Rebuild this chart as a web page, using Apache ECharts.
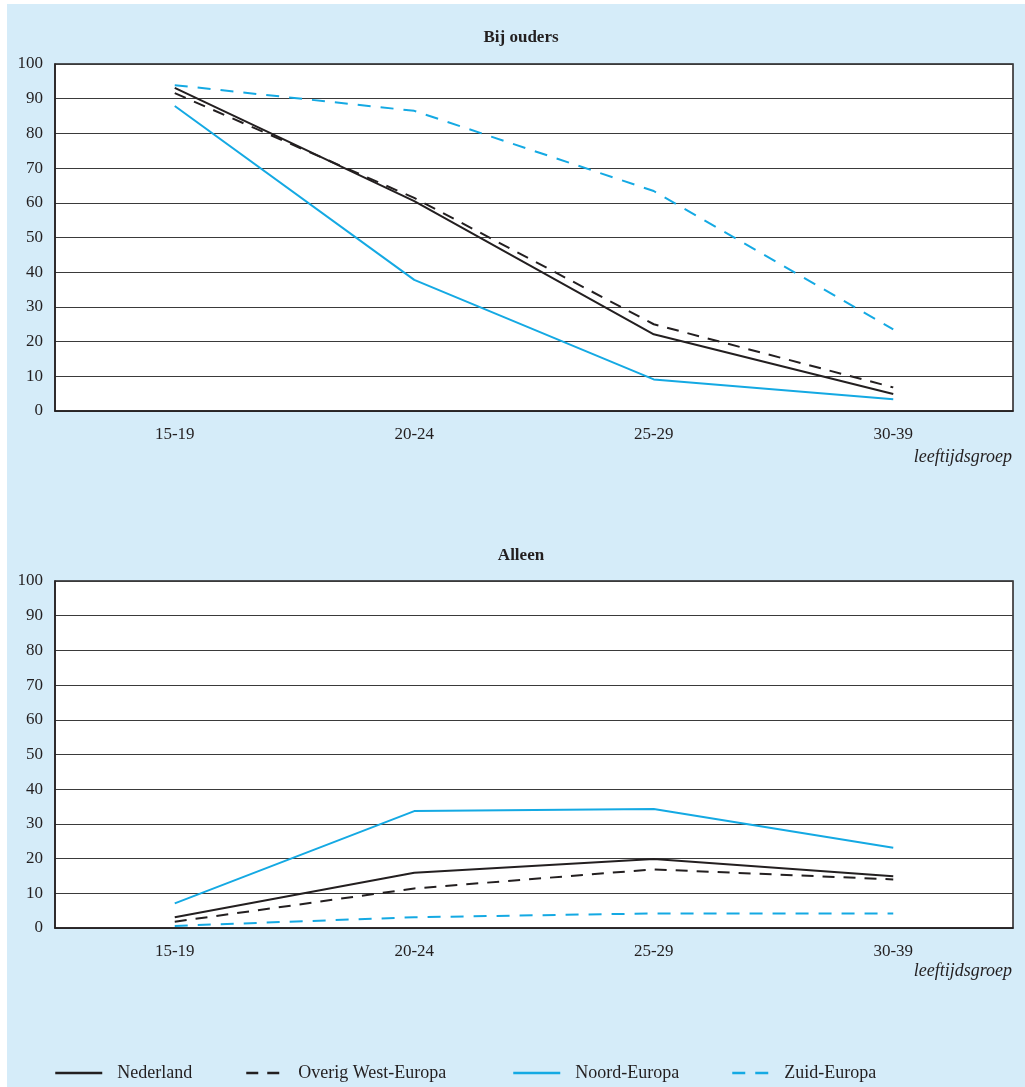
<!DOCTYPE html>
<html><head><meta charset="utf-8">
<script src="https://cdn.jsdelivr.net/npm/echarts@6/dist/echarts.min.js"></script>
<style>html,body{margin:0;padding:0;background:#fff}#c{width:1025px;height:1087px}</style>
</head><body><div id="c"></div>
<script>
var categories = ['15-19','20-24','25-29','30-39'];
var yTicks = [0,10,20,30,40,50,60,70,80,90,100];
var seriesNames = ['Nederland','Overig West-Europa','Noord-Europa','Zuid-Europa'];
// Bij ouders
var ouders_Nederland = [93.1, 60.5, 22.1, 4.9];
var ouders_OverigWest = [91.6, 61.4, 25.0, 6.8];
var ouders_Noord = [87.9, 37.8, 9.1, 3.4];
var ouders_Zuid = [93.9, 86.5, 63.4, 23.5];
// Alleen
var alleen_Nederland = [3.1, 15.9, 19.9, 14.9];
var alleen_OverigWest = [1.8, 11.4, 16.9, 14.0];
var alleen_Noord = [7.1, 33.7, 34.3, 23.1];
var alleen_Zuid = [0.6, 3.1, 4.2, 4.2];

var BLACK = '#231f20', BLUE = '#14a9e3', BG = '#d5ecf9';
var FONT = 'Liberation Serif';
var styles = [
  {color: BLACK, type: 'solid'},
  {color: BLACK, type: [12, 9]},
  {color: BLUE, type: 'solid'},
  {color: BLUE, type: [13, 10]}
];
var panels = [
  [ouders_Nederland, ouders_OverigWest, ouders_Noord, ouders_Zuid],
  [alleen_Nederland, alleen_OverigWest, alleen_Noord, alleen_Zuid]
];
var tops = [64, 581];

function mkX(i){
  return {type:'category', gridIndex:i, data:categories, boundaryGap:true,
    axisLine:{lineStyle:{color:BLACK,width:1.5}},
    axisTick:{alignWithLabel:true,length:7,lineStyle:{color:BLACK}},
    axisLabel:{color:BLACK,fontFamily:FONT,fontSize:17,margin:15}};
}
function mkY(i){
  return {type:'value', gridIndex:i, min:yTicks[0], max:yTicks[yTicks.length-1], interval:10,
    axisLine:{show:true,lineStyle:{color:BLACK,width:1.5}},
    axisTick:{show:false},
    splitLine:{lineStyle:{color:'#3a3a3a',width:1}},
    axisLabel:{color:BLACK,fontFamily:FONT,fontSize:17,margin:12}};
}
var series = [];
panels.forEach(function(p, gi){
  p.forEach(function(d, si){
    series.push({type:'line', name:seriesNames[si], xAxisIndex:gi, yAxisIndex:gi, data:d,
      symbol:'none', lineStyle:{color:styles[si].color, type:styles[si].type, width:2},
      itemStyle:{color:styles[si].color}, z:3});
  });
});
var legendLefts = [54, 245, 512, 731];
var legendWidths = [47, 37, 47, 37];
var legends = seriesNames.map(function(n, i){
  return {data:[n], left:legendLefts[i], top:1064, padding:0, itemWidth:legendWidths[i], itemHeight:14, itemGap:0,
    itemStyle:{opacity:0, borderWidth:0},
    lineStyle:{width:2.5},
    textStyle:{color:BLACK,fontFamily:FONT,fontSize:18,padding:[0,0,0,10]}, selectedMode:false};
});
var chart = echarts.init(document.getElementById('c'));
chart.setOption({
  animation:false,
  backgroundColor:'#fff',
  title:[
    {text:'Bij ouders', left:516, top:24, textAlign:'center', textStyle:{fontFamily:FONT,fontSize:17,fontWeight:'bold',color:BLACK}},
    {text:'Alleen', left:516, top:542, textAlign:'center', textStyle:{fontFamily:FONT,fontSize:17,fontWeight:'bold',color:BLACK}}
  ],
  graphic:[
    {type:'rect', shape:{x:7,y:4,width:1018,height:1083}, style:{fill:BG}, z:-10, silent:true},
    {type:'text', right:13, top:448, style:{text:'leeftijdsgroep', font:'italic 18px "Liberation Serif"', fill:BLACK}},
    {type:'text', right:13, top:962, style:{text:'leeftijdsgroep', font:'italic 18px "Liberation Serif"', fill:BLACK}}
  ],
  grid:[0,1].map(function(i){return {left:55, top:tops[i], width:958, height:347, show:true, backgroundColor:'#fff', borderColor:BLACK, borderWidth:1.5};}),
  xAxis:[mkX(0), mkX(1)],
  yAxis:[mkY(0), mkY(1)],
  legend:legends,
  series:series
});
</script></body></html>
